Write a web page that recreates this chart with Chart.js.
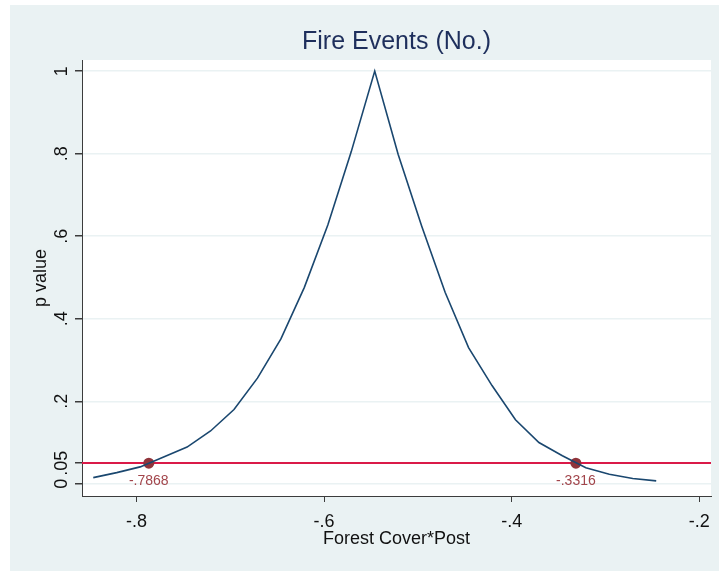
<!DOCTYPE html>
<html>
<head>
<meta charset="utf-8">
<script src="https://cdn.jsdelivr.net/npm/chart.js@4.4.1/dist/chart.umd.min.js"></script>
<style>
  html, body { margin: 0; padding: 0; background: #fff; }
  canvas { display: block; }
</style>
</head>
<body>
<canvas id="pchart" width="719" height="571"></canvas>
<script>
// coefficient grid and p values
const coefGrid = [-0.846, -0.821, -0.796, -0.771, -0.746, -0.721, -0.696, -0.671, -0.646, -0.621,
                  -0.596, -0.571, -0.546, -0.521, -0.496, -0.471, -0.446, -0.421, -0.396, -0.371,
                  -0.346, -0.321, -0.296, -0.271, -0.246];
const pValues = [0.015, 0.027, 0.041, 0.065, 0.089, 0.128, 0.180, 0.256, 0.351, 0.476,
                 0.627, 0.805, 1.000, 0.798, 0.625, 0.464, 0.330, 0.238, 0.155, 0.100,
                 0.068, 0.039, 0.023, 0.013, 0.007];

// confidence bounds where p = .05
const ciBounds = [-0.7868, -0.3316];
const alphaLevel = 0.05;

const xTicks = [-0.8, -0.6, -0.4, -0.2];
const xTickLabels = ['-.8', '-.6', '-.4', '-.2'];
const yTicks = [0, 0.05, 0.2, 0.4, 0.6, 0.8, 1];
const yTickLabels = ['0', '.05', '.2', '.4', '.6', '.8', '1'];

const FONT = "'Liberation Sans', Arial, sans-serif";
const BG = '#EAF2F3';

function stataNum(v) {
    return String(v).replace('0.', '.');
}

const backdrop = {
    id: 'backdrop',
    beforeDraw(chart) {
        const { ctx, chartArea: a } = chart;
        ctx.save();
        ctx.fillStyle = '#fff';
        ctx.fillRect(0, 0, chart.width, chart.height);
        ctx.fillStyle = BG;
        ctx.fillRect(10, 5, chart.width - 10, chart.height - 5);
        ctx.fillStyle = '#fff';
        ctx.fillRect(a.left, a.top, a.right - a.left, a.bottom - a.top);
        ctx.restore();
    }
};

const alphaLine = {
    id: 'alphaLine',
    beforeDatasetsDraw(chart) {
        const { ctx, chartArea: a, scales } = chart;
        const y = Math.round(scales.y.getPixelForValue(alphaLevel));
        ctx.save();
        ctx.strokeStyle = '#DA1A48';
        ctx.lineWidth = 2;
        ctx.beginPath();
        ctx.moveTo(a.left, y);
        ctx.lineTo(a.right, y);
        ctx.stroke();
        ctx.restore();
    }
};

const annotations = {
    id: 'annotations',
    afterDraw(chart) {
        const { ctx, chartArea: a } = chart;
        ctx.save();
        // graph title
        ctx.fillStyle = '#1E2F5C';
        ctx.font = `25px ${FONT}`;
        ctx.textAlign = 'center';
        ctx.textBaseline = 'middle';
        ctx.fillText('Fire Events (No.)', (a.left + a.right) / 2, 42);
        // bound labels under the markers
        const meta = chart.getDatasetMeta(1);
        ctx.fillStyle = '#A2454B';
        ctx.font = `14px ${FONT}`;
        meta.data.forEach((pt, i) => {
            ctx.fillText(stataNum(ciBounds[i]), pt.x, pt.y + 18);
        });
        ctx.restore();
    }
};

new Chart(document.getElementById('pchart'), {
    type: 'scatter',
    data: {
        datasets: [
            {
                data: coefGrid.map((x, i) => ({ x, y: pValues[i] })),
                showLine: true,
                borderColor: '#1A476F',
                borderWidth: 1.6,
                pointRadius: 0,
                tension: 0
            },
            {
                data: ciBounds.map(x => ({ x, y: alphaLevel })),
                showLine: false,
                pointRadius: 5.5,
                pointBorderWidth: 0,
                pointBackgroundColor: '#90343B',
                pointBorderColor: '#90343B'
            }
        ]
    },
    options: {
        responsive: false,
        animation: false,
        layout: { padding: { left: 0, right: 7, top: 60, bottom: 0 } },
        plugins: {
            legend: { display: false },
            tooltip: { enabled: false }
        },
        scales: {
            x: {
                type: 'linear',
                min: -0.858,
                max: -0.1876,
                afterFit: s => { s.height = 75; },
                afterBuildTicks: s => { s.ticks = xTicks.map(v => ({ value: v })); },
                border: { display: true, color: '#3c3c3c', width: 1 },
                grid: { drawOnChartArea: false, drawTicks: true, tickLength: 6, tickColor: '#3c3c3c' },
                ticks: {
                    color: '#111',
                    font: { family: FONT, size: 18 },
                    padding: 9,
                    maxRotation: 0,
                    callback: (v, i) => xTickLabels[i]
                },
                title: {
                    display: true,
                    text: 'Forest Cover*Post',
                    color: '#111',
                    font: { family: FONT, size: 18 },
                    padding: { top: 0, bottom: 21 }
                }
            },
            y: {
                type: 'linear',
                min: -0.0296,
                max: 1.027,
                afterFit: s => { s.width = 82; },
                afterBuildTicks: s => { s.ticks = yTicks.map(v => ({ value: v })); },
                border: { display: true, color: '#3c3c3c', width: 1 },
                grid: { color: BG, lineWidth: 1.5, drawTicks: true, tickLength: 7, tickColor: '#3c3c3c' },
                ticks: {
                    color: '#111',
                    font: { family: FONT, size: 18 },
                    minRotation: 90,
                    maxRotation: 90,
                    crossAlign: 'center',
                    padding: 0,
                    callback: (v, i) => yTickLabels[i]
                },
                title: {
                    display: true,
                    text: 'p value',
                    color: '#111',
                    font: { family: FONT, size: 18 },
                    padding: { top: 30, bottom: 0 }
                }
            }
        }
    },
    plugins: [backdrop, alphaLine, annotations]
});
</script>
</body>
</html>
